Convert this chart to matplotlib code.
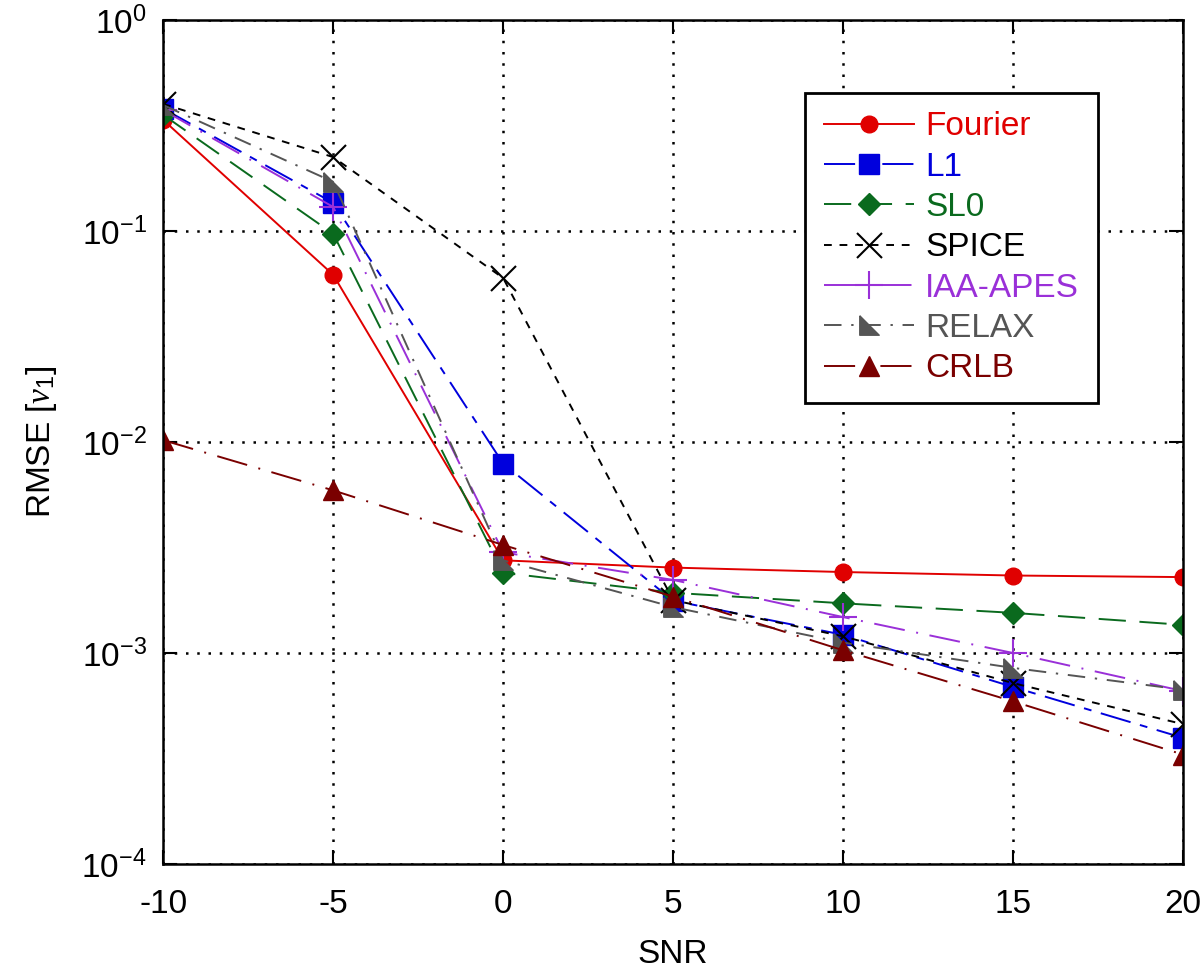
import numpy as np
import matplotlib
matplotlib.use('Agg')
import matplotlib.pyplot as plt
from matplotlib.ticker import LogLocator, NullLocator, LogFormatterSciNotation

plt.rcParams['font.family'] = ['Liberation Sans', 'DejaVu Sans']
plt.rcParams['mathtext.fontset'] = 'custom'
plt.rcParams['mathtext.rm'] = 'Liberation Sans'
plt.rcParams['mathtext.it'] = 'Liberation Serif:italic'

# Dados
snr = [-10, -5, 0, 5, 10, 15, 20]
fourier = [0.336, 0.062, 0.00275, 0.00254, 0.00242, 0.00233, 0.00229]
l1 = [0.38, 0.136, 0.0079, 0.00177, 0.00122, 0.00069, 0.000396]
sl0 = [0.355, 0.097, 0.00240, 0.00193, 0.00172, 0.00155, 0.00136]
spice = [0.40, 0.224, 0.0598, 0.00178, 0.00120, 0.00072, 0.00046]
iaa = [0.374, 0.130, 0.0030, 0.00222, 0.00148, 0.00100, 0.00066]
relax = [0.395, 0.171, 0.00275, 0.00165, 0.00112, 0.00085, 0.00067]
crlb = [0.0102, 0.0059, 0.00325, 0.00185, 0.00103, 0.00059, 0.00033]

labels = ['Fourier', 'L1', 'SL0', 'SPICE', 'IAA-APES', 'RELAX', 'CRLB']
colors = ['#e00000', '#0000dd', '#0a6a1e', '#000000', '#9a30d8', '#555555', '#7a0000']

# marcador triangulo retangulo para RELAX
tri_corner = [(-1, 1), (-1, -1), (1, -1), (-1, 1)]

styles = [
    dict(linestyle='-', marker='o', markersize=12),
    dict(linestyle=(0, (16, 5, 4, 5)), marker='s', markersize=14),
    dict(linestyle=(0, (14, 7)), marker='D', markersize=11),
    dict(linestyle=(0, (4, 4)), marker='x', markersize=18, markeredgewidth=1.5),
    dict(linestyle=(0, (16, 6, 1, 6)), marker='+', markersize=20, markeredgewidth=1.5),
    dict(linestyle=(0, (9, 5, 1.2, 5)), marker=tri_corner, markersize=14),
    dict(linestyle=(0, (16, 6, 1, 6)), marker='^', markersize=14),
]

fig = plt.figure(figsize=(12, 9.75), dpi=100)
ax = fig.add_axes([0.136, 0.1138, 0.850, 0.8657])

series = [fourier, l1, sl0, spice, iaa, relax, crlb]
for vals, lab, c, st in zip(series, labels, colors, styles):
    ax.plot(snr, vals, color=c, linewidth=1.4, label=lab, **st)

ax.set_yscale('log')
ax.set_xlim(-10, 20)
ax.set_ylim(1e-4, 1e0)
ax.set_xticks([-10, -5, 0, 5, 10, 15, 20])
ax.set_xticklabels(['-10', '-5', '0', '5', '10', '15', '20'])
ax.yaxis.set_major_locator(LogLocator(base=10, numticks=10))
ax.yaxis.set_minor_locator(NullLocator())
ax.yaxis.set_major_formatter(LogFormatterSciNotation())

ax.grid(True, which='major', color='black', linestyle=(0, (1, 3.5)), linewidth=1.8)
ax.tick_params(axis='both', which='major', direction='in', length=10, width=1.5,
               top=True, right=True, labelsize=24)
ax.tick_params(axis='x', pad=18)
ax.tick_params(axis='y', pad=12)
for sp in ax.spines.values():
    sp.set_linewidth(1.8)

ax.set_xlabel('SNR', fontsize=24, labelpad=14)
ax.set_ylabel(r'RMSE [$\nu_1$]', fontsize=24, labelpad=16)

leg = ax.legend(loc='upper right', bbox_to_anchor=(0.916, 0.9135), fontsize=24,
                frameon=True, fancybox=False, edgecolor='black', framealpha=1,
                handlelength=2.7, labelspacing=0.28, borderpad=0.55, handletextpad=0.35,
                borderaxespad=0)
leg.get_frame().set_linewidth(2)
for txt, c in zip(leg.get_texts(), colors):
    txt.set_color(c)

fig.savefig('out.png', dpi=100)
